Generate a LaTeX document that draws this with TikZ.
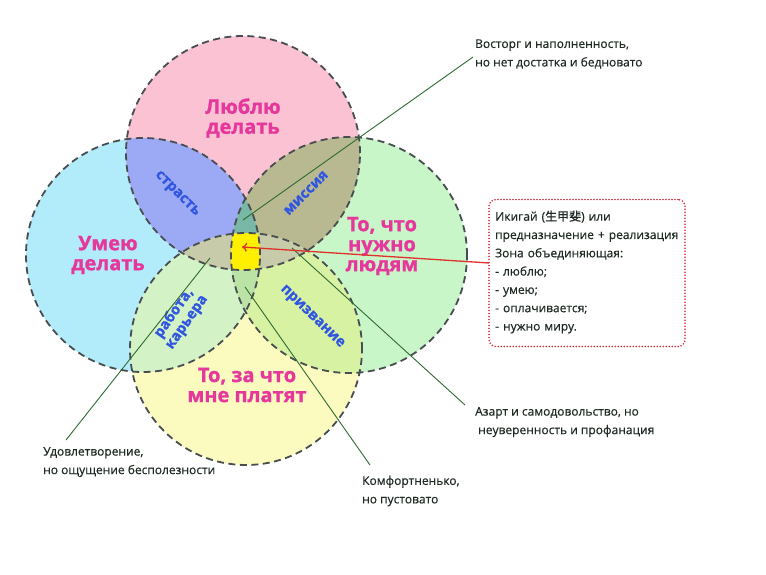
\documentclass[tikz,border=0pt]{standalone}
\usepackage{fontspec}
\setmainfont{Open Sans}
\newfontfamily\heavy[BoldFeatures={FakeBold=1.2}]{Open Sans}
\newfontfamily\notefont[FakeBold=0.4]{Open Sans}
\newfontfamily\cjk[FakeBold=0.4]{Noto Sans CJK JP}
\usetikzlibrary{arrows.meta}
\definecolor{cP}{HTML}{FBC2D3}
\definecolor{cB}{HTML}{B2EBFA}
\definecolor{cG}{HTML}{C8F6C8}
\definecolor{cY}{HTML}{FCFBBF}
\definecolor{cPB}{HTML}{9CA9F4}
\definecolor{cPG}{HTML}{B8B891}
\definecolor{cBY}{HTML}{D3F2C6}
\definecolor{cGY}{HTML}{D8F2A4}
\definecolor{cBG}{HTML}{9FD8C8}
\definecolor{cPY}{HTML}{C8CBA9}
\definecolor{cPBG}{HTML}{79B7A6}
\definecolor{cBGY}{HTML}{BCE3A6}
\definecolor{cAll}{HTML}{FFF000}
\definecolor{dashc}{HTML}{474D50}
\definecolor{magc}{HTML}{E6389C}
\definecolor{bluec}{HTML}{3157E0}
\definecolor{notec}{HTML}{1E2A22}
\definecolor{connc}{HTML}{2F6A30}
\definecolor{redc}{HTML}{E0302A}
\definecolor{boxc}{HTML}{D42A3A}
\newcommand\cirP{(243,153) circle[radius=117pt]}
\newcommand\cirB{(143,255) circle[radius=117pt]}
\newcommand\cirG{(349,255) circle[radius=118pt]}
\newcommand\cirY{(246,349) circle[radius=116pt]}
\tikzset{
  circ/.style={draw=dashc, line width=1.8pt, dash pattern=on 7pt off 4.5pt},
  bigtxt/.style={text=magc, font=\heavy\fontsize{20}{20}\selectfont\bfseries, align=center, inner sep=0pt},
  bluetxt/.style={text=bluec, font=\heavy\fontsize{14.5}{15}\selectfont\bfseries, align=center, inner sep=0pt},
  note/.style={text=notec, font=\notefont\fontsize{12}{18.5}\selectfont, align=left, inner sep=0pt, anchor=west},
  conn/.style={draw=connc, line width=0.9pt},
  redarrow/.style={draw=redc, line width=1.3pt, -{To[length=5pt,width=9pt]}},
  dotbox/.style={draw=boxc, line width=1.8pt, line cap=round, dash pattern=on 0pt off 3pt, rounded corners=7pt}
}
\begin{document}
\begin{tikzpicture}[x=1pt,y=-1pt]
\useasboundingbox (0,0) rectangle (766,575);
\fill[white] (0,0) rectangle (766,575);
% single circles
\fill[cB] \cirB;
\fill[cG] \cirG;
\fill[cY] \cirY;
\fill[cP] \cirP;
% pairs
\begin{scope}\clip \cirP; \fill[cPB] \cirB; \fill[cPG] \cirG; \fill[cPY] \cirY; \end{scope}
\begin{scope}\clip \cirY; \fill[cBY] \cirB; \fill[cGY] \cirG; \end{scope}
\begin{scope}\clip \cirB; \fill[cBG] \cirG; \end{scope}
% triples
\begin{scope}\clip \cirP; \clip \cirB; \fill[cPBG] \cirG; \end{scope}
\begin{scope}\clip \cirP; \clip \cirY; \fill[cPY] \cirB; \fill[cPY] \cirG; \end{scope}
\begin{scope}\clip \cirB; \clip \cirG; \fill[cBGY] \cirY; \end{scope}
% all four
\begin{scope}\clip \cirP; \clip \cirB; \clip \cirG; \fill[cAll] \cirY; \end{scope}
% outlines
\draw[circ] \cirB;
\draw[circ] \cirG;
\draw[circ] \cirY;
\draw[circ] \cirP;
% main labels
\node[bigtxt] (love) at (243,118) {Люблю\\делать};
\node[bigtxt] (can) at (108,255) {Умею\\делать};
\node[bigtxt] (need) at (382,246) {То, что\\нужно\\людям};
\node[bigtxt] (paid) at (247,385) {То, за что\\мне платят};
% intersection labels
\node[bluetxt, rotate=-45] (passion) at (177,194) {страсть};
\node[bluetxt, rotate=45] (mission) at (306,193) {миссия};
\node[bluetxt, rotate=55] (work1) at (174,313) {работа,};
\node[bluetxt, rotate=55] (work2) at (188,323) {карьера};
\node[bluetxt, rotate=-44] (vocation) at (312,317) {призвание};
% notes
\node[note] (n1) at (475,54) {Восторг и наполненность,\\но нет достатка и бедновато};
\node[note] (n2) at (43,462) {Удовлетворение,\\но ощущение бесполезности};
\node[note] (n3) at (362,491) {Комфортненько,\\но пустовато};
\node[note] (n4) at (475,422) {Азарт и самодовольство, но\\\hspace*{3pt}неуверенность и профанация};
% box
\node[dotbox, minimum width=196pt, minimum height=147pt] (box) at (587,273) {};
\node[note, text width=188pt, font=\notefont\fontsize{12}{18.3}\selectfont] (boxtxt) at (495,272) {Икигай ({\cjk 生甲斐}) или\\предназначение + реализация\\Зона объединяющая:\\- люблю;\\- умею;\\- оплачивается;\\- нужно миру.};
% connector ends
\coordinate (a1) at (243,220);
\coordinate (e1) at (473,57);
\coordinate (a2) at (210,258);
\coordinate (e2) at (66,440);
\coordinate (a3) at (245,287);
\coordinate (e3) at (370,465);
\coordinate (a4) at (292,248);
\coordinate (e4) at (465,405);
\coordinate (ctr) at (242,247);
\coordinate (rs) at (489,263);
\draw[conn] (a1) -- (e1);
\draw[conn] (a2) -- (e2);
\draw[conn] (a3) -- (e3);
\draw[conn] (a4) -- (e4);
\draw[redarrow] (rs) -- (ctr);
\end{tikzpicture}
\end{document}
